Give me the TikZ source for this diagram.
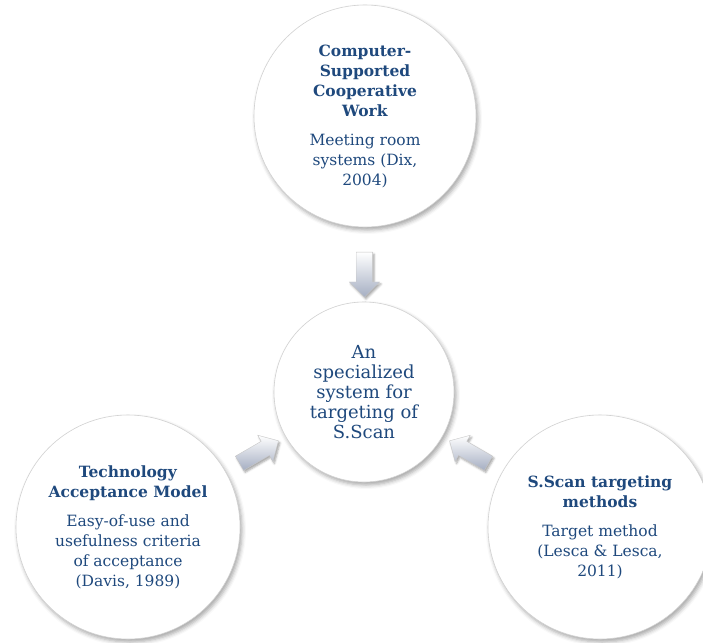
\documentclass[tikz,border=0pt]{standalone}
\usepackage{fontspec}
\setmainfont{DejaVu Serif}
\usetikzlibrary{calc,shapes.arrows,shadows.blur}
\definecolor{txtblue}{HTML}{1F497D}
\definecolor{arrowgray}{RGB}{165,174,194}
\pgfdeclareradialshading{bubbleshade}{\pgfpoint{0bp}{0bp}}{color(0bp)=(white); color(40bp)=(white); color(50bp)=(gray!22)}
\begin{document}
\begin{tikzpicture}[x=1pt,y=-1pt,
    bubble/.style={circle, draw=gray!35, line width=0.6pt, shading=bubbleshade, minimum size=#1, inner sep=0pt, align=center, text=txtblue, font=\fontsize{15.5}{20}\selectfont,
        blur shadow={shadow xshift=2pt, shadow yshift=-3pt, shadow blur radius=4pt, shadow opacity=35}},
    blockarrow/.style={single arrow, draw=gray!45, top color=white, bottom color=arrowgray, minimum height=45pt, inner xsep=0pt, inner ysep=8pt, single arrow head extend=7pt, rotate=#1,
        blur shadow={shadow xshift=1.5pt, shadow yshift=-2pt, shadow blur radius=2pt, shadow opacity=35}}
    ]
        \useasboundingbox (0,0) rectangle (703,642);
        % the four circles
        \node[bubble=222pt] (csc) at (365,116) {\textbf{Computer-}\\\textbf{Supported}\\\textbf{Cooperative}\\\textbf{Work}\\[9pt]Meeting room\\systems (Dix,\\2004)};
        \node[bubble=180pt, font=\fontsize{18}{19.8}\selectfont] (core) at (364,392) {An\\specialized\\system for\\targeting of\\S.Scan};
        \node[bubble=224pt] (tam) at (128,527) {\textbf{Technology}\\\textbf{Acceptance Model}\\[9pt]Easy-of-use and\\usefulness criteria\\of acceptance\\(Davis, 1989)};
        \node[bubble=224pt] (sscan) at (600,527) {\textbf{S.Scan targeting}\\\textbf{methods}\\[9pt]Target method\\(Lesca \& Lesca,\\2011)};
        % block arrows towards the centre
        \node[blockarrow=-90] (a-csc) at ($(csc)!0.56!(core)$) {};
        \node[blockarrow=30] (a-tam) at ($(tam)!0.54!(core)$) {};
        \node[blockarrow=150] (a-sscan) at ($(sscan)!0.54!(core)$) {};
    \end{tikzpicture}
\end{document}
